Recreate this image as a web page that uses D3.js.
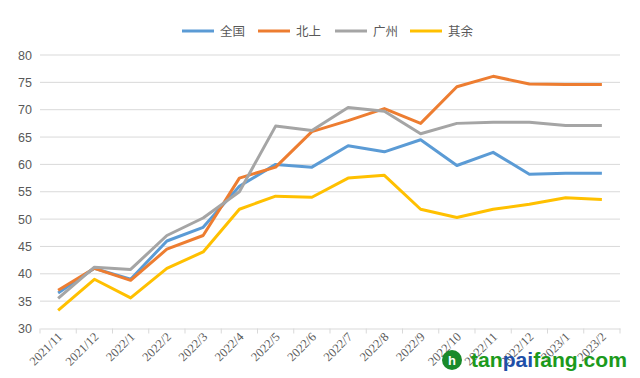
<!DOCTYPE html>
<html>
<head>
<meta charset="utf-8">
<script src="https://cdn.jsdelivr.net/npm/d3@7"></script>
<style>
  body { margin: 0; background: #fff; }
  svg { display: block; font-family: "Liberation Sans", "Noto Sans CJK SC", sans-serif; }
</style>
</head>
<body>
<svg id="chart" width="640" height="378"></svg>
<script>
// categories (months)
let months = ["2021/11", "2021/12", "2022/1", "2022/2", "2022/3", "2022/4", "2022/5", "2022/6",
    "2022/7", "2022/8", "2022/9", "2022/10", "2022/11", "2022/12", "2023/1", "2023/2"];

// series values
let quanguo = [36.5, 41, 39, 46, 48.5, 56, 60, 59.5, 63.4, 62.3, 64.5, 59.8, 62.2, 58.2, 58.4, 58.4];
let beishang = [37, 41, 38.8, 44.5, 47, 57.5, 59.5, 66, 68, 70.2, 67.5, 74.2, 76.1, 74.7, 74.6, 74.6];
let guangzhou = [35.5, 41.2, 40.8, 47, 50.2, 55, 67, 66.2, 70.4, 69.7, 65.6, 67.5, 67.7, 67.7, 67.1, 67.1];
let qiyu = [33.3, 39, 35.6, 41, 44, 51.8, 54.2, 54, 57.5, 58, 51.8, 50.3, 51.8, 52.7, 53.9, 53.6];

let seriesNames = ["全国", "北上", "广州", "其余"];
let yTicks = [30, 35, 40, 45, 50, 55, 60, 65, 70, 75, 80];

let series = [
    { name: seriesNames[0], values: quanguo, color: "#5b9bd5" },
    { name: seriesNames[1], values: beishang, color: "#ed7d31" },
    { name: seriesNames[2], values: guangzhou, color: "#a5a5a5" },
    { name: seriesNames[3], values: qiyu, color: "#ffc000" }
];

let svg = d3.select("#chart");
let plotLeft = 40, plotRight = 620, plotTop = 55, plotBottom = 328.5;

let x = d3.scaleBand().domain(months).range([plotLeft, plotRight]);
let y = d3.scaleLinear().domain([30, 80]).range([plotBottom, plotTop]);

// grid lines
svg.append("g")
    .selectAll("line")
    .data(yTicks.slice(1))
    .join("line")
    .attr("x1", plotLeft)
    .attr("x2", plotRight)
    .attr("y1", d => y(d))
    .attr("y2", d => y(d))
    .attr("stroke", "#d9d9d9")
    .attr("stroke-width", 1);

// y labels
svg.append("g")
    .selectAll("text")
    .data(yTicks)
    .join("text")
    .attr("x", 32)
    .attr("y", d => y(d) + 4.5)
    .attr("text-anchor", "end")
    .attr("font-size", 12.5)
    .attr("fill", "#595959")
    .text(d => d);

// x axis
let xAxis = svg.append("g")
    .attr("transform", "translate(0," + plotBottom + ")")
    .call(d3.axisBottom(x).tickSize(0).tickFormat(""));
xAxis.select(".domain").attr("stroke", "#d9d9d9");
xAxis.selectAll(".tick").remove();

let bounds = months.map(m => x(m)).concat([plotRight]);
svg.append("g")
    .selectAll("line")
    .data(bounds)
    .join("line")
    .attr("x1", d => d)
    .attr("x2", d => d)
    .attr("y1", plotBottom)
    .attr("y2", plotBottom + 5)
    .attr("stroke", "#d9d9d9");

svg.append("g")
    .selectAll("text")
    .data(months)
    .join("text")
    .attr("transform", d => "translate(" + (x(d) + x.bandwidth() / 2 + 5) + "," + (plotBottom + 9) + ") rotate(-45)")
    .attr("text-anchor", "end")
    .attr("font-size", 12.5)
    .attr("fill", "#595959")
    .attr("font-family", "Liberation Serif, serif")
    .text(d => d);

// lines
let line = d3.line()
    .x((d, i) => x(months[i]) + x.bandwidth() / 2)
    .y(d => y(d));

svg.append("g")
    .selectAll("path")
    .data(series)
    .join("path")
    .attr("d", d => line(d.values))
    .attr("fill", "none")
    .attr("stroke", d => d.color)
    .attr("stroke-width", 3)
    .attr("stroke-linejoin", "round");

// legend
let legendX = [182, 258, 335, 410];
let legend = svg.append("g")
    .selectAll("g")
    .data(series)
    .join("g")
    .attr("transform", (d, i) => "translate(" + legendX[i] + ",31)");
legend.append("line")
    .attr("x1", 0)
    .attr("x2", 32)
    .attr("stroke", d => d.color)
    .attr("stroke-width", 3);
legend.append("text")
    .attr("x", 38)
    .attr("y", 4.5)
    .attr("font-size", 12.5)
    .attr("fill", "#595959")
    .attr("font-family", "Noto Sans CJK SC, sans-serif")
    .text(d => d.name);

// watermark
let wm = svg.append("g").attr("transform", "translate(452,360)");
wm.append("circle").attr("r", 10).attr("fill", "#1a8a2a");
wm.append("text")
    .attr("x", 0)
    .attr("y", 5)
    .attr("text-anchor", "middle")
    .attr("font-size", 13)
    .attr("font-weight", "bold")
    .attr("fill", "#fff")
    .text("h");
let wt = wm.append("text")
    .attr("x", 19)
    .attr("y", 7)
    .attr("font-size", 20)
    .attr("font-weight", "bold")
    .attr("font-family", "Liberation Sans, sans-serif")
    .attr("textLength", 156)
    .attr("lengthAdjust", "spacingAndGlyphs")
    .attr("fill", "#1c9a1c");
wt.append("tspan").text("tan");
wt.append("tspan").attr("fill", "#1f4fa8").text("pai");
wt.append("tspan").text("fang.com");
</script>
</body>
</html>
